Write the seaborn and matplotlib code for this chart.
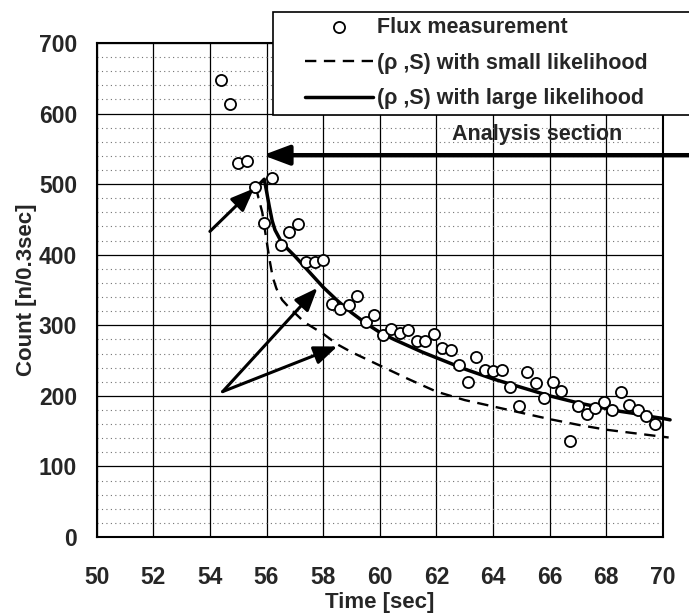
import matplotlib
matplotlib.use("Agg")
import matplotlib.pyplot as plt
import matplotlib.transforms as mtrans
from matplotlib.patches import Rectangle
from matplotlib.ticker import MultipleLocator
import seaborn as sns
import pandas as pd

# flux measurement (one point every 0.3 sec)
t_flux = [54.4, 54.7, 55.0, 55.3, 55.6, 55.9, 56.2, 56.5, 56.8, 57.1, 57.4, 57.7,
          58.0, 58.3, 58.6, 58.9, 59.2, 59.5, 59.8, 60.1, 60.4, 60.7, 61.0, 61.3,
          61.6, 61.9, 62.2, 62.5, 62.8, 63.1, 63.4, 63.7, 64.0, 64.3, 64.6, 64.9,
          65.2, 65.5, 65.8, 66.1, 66.4, 66.7, 67.0, 67.3, 67.6, 67.9, 68.2, 68.5,
          68.8, 69.1, 69.4, 69.7]
count_flux = [648, 614, 530, 533, 496, 445, 509, 414, 432, 444, 389, 389,
              393, 330, 323, 329, 341, 305, 315, 286, 295, 289, 293, 278,
              278, 288, 268, 265, 244, 219, 255, 236, 235, 237, 212, 186,
              234, 218, 197, 219, 207, 136, 186, 175, 183, 191, 180, 206,
              187, 180, 172, 160]

# fitted curve, large likelihood
t_large = [55.75, 55.92, 56.0, 56.1, 56.2, 56.3, 56.5, 56.75, 57.0, 57.5, 58.0, 58.5,
           59.0, 59.5, 60.0, 60.5, 61.0, 61.5, 62.0, 62.5, 63.0, 63.5, 64.0, 64.5,
           65.0, 65.5, 66.0, 66.5, 67.0, 67.5, 68.0, 68.5, 69.0, 69.5, 70.0, 70.25]
count_large = [500, 507, 490, 468, 448, 435, 420, 408, 398, 376, 354, 335,
               318, 303, 290, 280, 271, 262, 254, 246, 238, 231, 224, 218,
               212, 206, 200, 195, 190, 186, 182, 178, 175, 171, 168, 166]

# fitted curve, small likelihood
t_small = [55.62, 55.72, 55.85, 56.0, 56.12, 56.22, 56.35, 56.55, 56.8, 57.35, 58.0,
           58.5, 59.0, 60.0, 61.0, 62.0, 63.0, 64.0, 65.0, 66.0, 67.0, 68.0, 69.0, 70.2]
count_small = [496, 480, 460, 420, 390, 368, 352, 336, 325, 304, 288,
               273, 262, 243, 224, 206, 194, 185, 176, 167, 159, 152, 147, 141]

lab_flux = "Flux measurement"
lab_small = "(ρ ,S) with small likelihood"
lab_large = "(ρ ,S) with large likelihood"

sns.set_style("white")
plt.rcParams["font.family"] = ["Liberation Sans", "DejaVu Sans"]
plt.rcParams["font.weight"] = "bold"

fig = plt.figure(figsize=(6.89, 6.16), dpi=100)
ax = fig.add_axes([96.6 / 689, 1 - 537 / 616, (663 - 96.6) / 689, (537 - 43) / 616])

df_flux = pd.DataFrame({"t": t_flux, "c": count_flux})
df_small = pd.DataFrame({"t": t_small, "c": count_small})
df_large = pd.DataFrame({"t": t_large, "c": count_large})

sns.lineplot(data=df_small, x="t", y="c", ax=ax, color="black", lw=1.7,
             linestyle=(0, (4.8, 3.2)), label=lab_small, clip_on=False, zorder=3)
sns.lineplot(data=df_large, x="t", y="c", ax=ax, color="black", lw=2.5,
             label=lab_large, clip_on=False, zorder=3)
sns.scatterplot(data=df_flux, x="t", y="c", ax=ax, marker="o", s=64,
                facecolor="white", edgecolor="black", linewidth=1.3,
                label=lab_flux, zorder=4)

ax.set_xlim(50, 70)
ax.set_ylim(0, 700)
ax.xaxis.set_major_locator(MultipleLocator(2))
ax.yaxis.set_major_locator(MultipleLocator(100))
ax.yaxis.set_minor_locator(MultipleLocator(20))
ax.grid(which="major", color="black", lw=0.9)
ax.grid(which="minor", axis="y", color="0.45", lw=0.8, linestyle=(0, (1, 3)))
ax.set_axisbelow(True)
ax.tick_params(axis="both", which="both", length=0, labelsize=16.5)
ax.tick_params(axis="x", pad=21)
ax.tick_params(axis="y", pad=14)
for sp in ax.spines.values():
    sp.set_color("black")
    sp.set_linewidth(1.5)

ax.set_xlabel("Time [sec]", fontsize=16, fontweight="bold", labelpad=2)
ax.set_ylabel("Count [n/0.3sec]", fontsize=16, fontweight="bold", labelpad=1)

# annotation arrows
arr = dict(arrowstyle="-|>,head_length=0.7,head_width=0.28", color="black",
           lw=2.2, shrinkA=0, shrinkB=0, mutation_scale=20)
ax.annotate("", xy=(55.56, 494), xytext=(54.0, 433), arrowprops=arr, zorder=5)
ax.annotate("", xy=(57.8, 353), xytext=(54.45, 206), arrowprops=arr, zorder=5)
ax.annotate("", xy=(58.5, 270), xytext=(54.45, 206), arrowprops=arr, zorder=5)

blend = mtrans.blended_transform_factory(fig.transFigure, ax.transData)
arr2 = dict(arrowstyle="-|>,head_length=0.8,head_width=0.3", color="black",
            lw=3.2, shrinkA=0, shrinkB=0, mutation_scale=20)
ax.annotate("", xy=(55.87, 541), xytext=(1.0, 541), textcoords=blend,
            arrowprops=arr2, zorder=5, annotation_clip=False)
ax.text(65.57, 570, "Analysis section", ha="center", va="center",
        fontsize=15.5, fontweight="bold", zorder=5)

# legend box sits partly over the plot and runs off the right edge
handles, labels = ax.get_legend_handles_labels()
lookup = dict(zip(labels, handles))
ax.get_legend().remove()
fig.add_artist(Rectangle((273 / 689, 1 - 115 / 616), (700 - 273) / 689, 103 / 616,
                         transform=fig.transFigure, facecolor="white",
                         edgecolor="black", lw=1.2, zorder=4))
fig.legend([lookup[lab_flux], lookup[lab_small], lookup[lab_large]],
           [lab_flux, lab_small, lab_large],
           loc="upper left", bbox_to_anchor=(305 / 689, 1 - 17 / 616),
           frameon=False, borderpad=0, borderaxespad=0,
           handlelength=3.15, handletextpad=0.2, labelspacing=0.68,
           prop={"weight": "bold", "size": 15.5}).set_zorder(5)

fig.savefig("out.png", dpi=100)
